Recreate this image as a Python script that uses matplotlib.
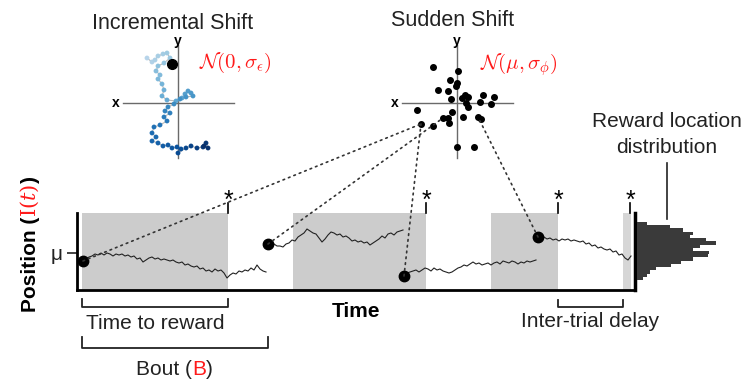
import matplotlib.pyplot as plt
import numpy as np
from matplotlib.patches import ConnectionPatch

plt.rcParams['font.family'] = ['Liberation Sans', 'DejaVu Sans']

W, H = 748, 381

# position traces (time step of 3, start times below)
trace_dt = 3
trace_t0 = [6, 191, 327, 461]
trace1 = [-8, -6, -4, -3, -1, -2, 0, -2, 0, -1, -3, -1, -2, -1, -3, -2, -4, -3, -6, -5,
          -9, -7, -5, -4, -6, -5, -7, -6, -7, -8, -7, -9, -10, -9, -12, -11, -13, -14, -13, -16,
          -15, -18, -17, -19, -16, -18, -17, -20, -25, -22, -20, -21, -18, -19, -17, -18, -15, -17, -12, -16,
          -18, -19]
trace2 = [9, 8, 9, 7, 7, 6, 9, 10, 13, 12, 16, 18, 20, 24, 22, 20, 19, 15, 11, 14,
          18, 21, 20, 18, 19, 16, 17, 15, 12, 13, 11, 12, 10, 11, 8, 10, 12, 14, 17, 15,
          19, 20, 18, 21, 22, 23]
trace3 = [-23, -20, -19, -18, -17, -19, -17, -15, -16, -18, -15, -17, -16, -18, -19, -20, -19, -17, -15, -14,
          -12, -13, -11, -9, -11, -10, -12, -11, -10, -12, -10, -9, -11, -8, -9, -10, -8, -9, -11, -9,
          -10, -8, -9, -8, -7]
trace4 = [16, 15, 16, 14, 15, 13, 14, 12, 14, 13, 14, 12, 13, 12, 11, 12, 9, 10, 7, 8,
          5, 6, 4, 3, 4, 1, 2, -2, -1, -5, -7, -3]
traces = [trace1, trace2, trace3, trace4]

bouts = [(5, 151), (216, 349), (414, 481), (546, 554)]
reward_times = [151, 349, 481, 553]

# incremental shift: random walk of reward location
inc_x = [-31, -26, -23, -20, -15, -11, -8, -14, -20, -22, -18, -20, -16, -14, -16, -11, -2, 4, 7, 10,
         13, 15, 8, 2, -4, -10, -13, -8, -14, -11, -18, -24, -26, -22, -26, -20, -15, -10, -6, -1,
         3, 0, 8, 13, 19, 25, 28, 30, 26]
inc_y = [45, 41, 43, 47, 49, 50, 45, 40, 37, 32, 28, 24, 19, 13, 7, 3, 2, 5, 9, 12,
         10, 7, 6, 4, -1, -4, -8, -10, -14, -18, -22, -24, -30, -34, -38, -40, -43, -42, -45, -44,
         -46, -50, -45, -43, -45, -44, -40, -45, -43]
inc_current = (-6, 39)

# sudden shift: independent samples
sud_x = [-24, 1, -7, 0, -1, -19, -9, -6, 5, 8, 11, 26, 37, 23, 34, 9, 11, -40, -5, -14,
         -9, 6, 21, 24, -8, -36, -24, 0, 17]
sud_y = [36, 32, 23, 20, 17, 13, 12, 4, 5, 8, 6, 8, 6, 1, -1, 0, -4, -7, -9, -15,
         -15, -14, -14, -16, -20, -21, -23, -44, -44]
trace_links = [25, 19, 25, 22]

hist_counts = [10, 33, 46, 56, 53, 69, 79, 63, 56, 72, 71, 56, 44, 34, 19, 13, 10, 6]
hist_edges = np.linspace(31, -27, len(hist_counts) + 1)


def px(x, y):
    return x / W, 1 - y / H


fig = plt.figure(figsize=(W / 100, H / 100), dpi=100)

# main time axis
ax = fig.add_axes([77 / W, 1 - 290 / H, 558 / W, 77 / H])
ax.set_facecolor('none')
ax.set_xlim(0, 558)
ax.set_ylim(-37, 40)
for i, (b0, b1) in enumerate(bouts):
    ax.axvspan(b0, b1, color='#cccccc' if i < 3 else '#d6d6d6', lw=0, zorder=0)
for t0, tr in zip(trace_t0, traces):
    tt = t0 + trace_dt * np.arange(len(tr))
    ax.plot(tt, tr, color='#222222', lw=0.8, zorder=3)
    ax.plot(t0, tr[0], 'o', color='black', ms=7.5, zorder=5)
for rt in reward_times:
    ax.plot([rt, rt], [40, 50], color='black', lw=1.2, clip_on=False)
    ax.text(rt, 45, '*', ha='center', va='baseline', fontsize=18, clip_on=False)

ax.spines['top'].set_visible(False)
ax.spines['left'].set_linewidth(2)
ax.spines['bottom'].set_linewidth(2)
ax.spines['right'].set_linewidth(2.5)
ax.set_xticks([])
ax.set_yticks([0])
ax.set_yticklabels(['μ'])
ax.tick_params(axis='y', length=7, width=1.2, labelsize=15, pad=3, colors='#222222')

# brackets under the time axis
def bracket(x0, x1, ytop, ybot):
    ax.plot([x0, x0, x1, x1], [ytop, ybot, ybot, ytop], color='#222222', lw=1.3, clip_on=False)

bracket(bouts[0][0], reward_times[0], -46, -54)
bracket(bouts[0][0], trace_t0[1], -84, -95)
bracket(reward_times[2], bouts[3][0], -47, -54)

fig.text(*px(155, 329), 'Time to reward', ha='center', va='baseline', fontsize=15, color='#222222')
fig.text(*px(356, 317), 'Time', ha='center', va='baseline', fontsize=15, weight='bold')
fig.text(*px(590, 327), 'Inter-trial delay', ha='center', va='baseline', fontsize=15, color='#222222')
b1 = fig.text(*px(136, 375), 'Bout (', ha='left', va='baseline', fontsize=15, color='#222222')
b2 = ax.annotate('B', xy=(1, 0), xycoords=b1, ha='left', va='bottom', fontsize=15, color='#ff1a1a')
ax.annotate(')', xy=(1, 0), xycoords=b2, ha='left', va='bottom', fontsize=15, color='#222222')

# y label with coloured part
y1 = fig.text(*px(30, 312), 'Position (', rotation=90, ha='center', va='bottom',
              fontsize=15, weight='bold')
y2 = ax.annotate(r'$\mathrm{I}(t)$', xy=(0.5, 1), xycoords=y1, rotation=90, ha='center',
                 va='bottom', fontsize=15, color='#ff1a1a', math_fontfamily='dejavuserif')
ax.annotate(')', xy=(0.5, 1), xycoords=y2, rotation=90, ha='center', va='bottom',
            fontsize=15, weight='bold')

# histogram of reward locations
axh = fig.add_axes([637 / W, 1 - 290 / H, 100 / W, 77 / H])
axh.set_ylim(-37, 40)
axh.set_xlim(0, 100)
axh.axis('off')
centers = (hist_edges[:-1] + hist_edges[1:]) / 2
axh.barh(centers, hist_counts, height=abs(hist_edges[1] - hist_edges[0]), left=0,
         color='#3a3a3a', lw=0)
axh.plot([30, 30], [34, 90], color='#222222', lw=1.2, clip_on=False)
fig.text(*px(667, 127), 'Reward location', ha='center', va='baseline', fontsize=15, color='#222222')
fig.text(*px(667, 153), 'distribution', ha='center', va='baseline', fontsize=15, color='#222222')

# inset scatter plots
def cross_axes(left):
    a = fig.add_axes([left / W, 1 - 163 / H, 120 / W, 120 / H])
    a.set_xlim(-60, 60)
    a.set_ylim(-60, 60)
    a.axis('off')
    a.plot([-55, 56], [0, 0], color='#6a6a6a', lw=1)
    a.plot([0, 0], [-55, 58], color='#6a6a6a', lw=1)
    a.text(-62, 0, 'x', ha='center', va='center', fontsize=10, weight='bold', clip_on=False)
    a.text(0, 62, 'y', ha='center', va='center', fontsize=10, weight='bold', clip_on=False)
    return a

axi = cross_axes(118)
axi.plot(inc_x, inc_y, color='#b8b8b8', lw=0.8, zorder=2)
axi.scatter(inc_x, inc_y, c=plt.cm.Blues(np.linspace(0.3, 1.0, len(inc_x))), s=12,
            edgecolors='none', zorder=3)
axi.plot(*inc_current, 'o', color='black', ms=7, zorder=4)
fig.text(*px(199, 63), r'$\mathcal{N}(0,\sigma_{\epsilon})$', ha='left', va='center',
         fontsize=15, color='#ff1a1a', math_fontfamily='cm')

axs = cross_axes(397)
axs.plot(sud_x, sud_y, 'o', color='black', ms=4, zorder=3)
fig.text(*px(480, 65), r'$\mathcal{N}(\mu,\sigma_{\phi})$', ha='left', va='center',
         fontsize=15, color='#ff1a1a', math_fontfamily='cm')

fig.text(*px(173, 29), 'Incremental Shift', ha='center', va='baseline', fontsize=15.5, color='#222222')
fig.text(*px(453, 26), 'Sudden Shift', ha='center', va='baseline', fontsize=15.5, color='#222222')

# dotted links from trace starts to sampled locations
for t0, tr, k in zip(trace_t0, traces, trace_links):
    con = ConnectionPatch(xyA=(t0, tr[0]), coordsA=ax.transData,
                          xyB=(sud_x[k], sud_y[k]), coordsB=axs.transData,
                          linestyle=(0, (1, 2.5)), color='#333333', lw=1.2)
    fig.add_artist(con)

fig.savefig('out.png', dpi=100)
